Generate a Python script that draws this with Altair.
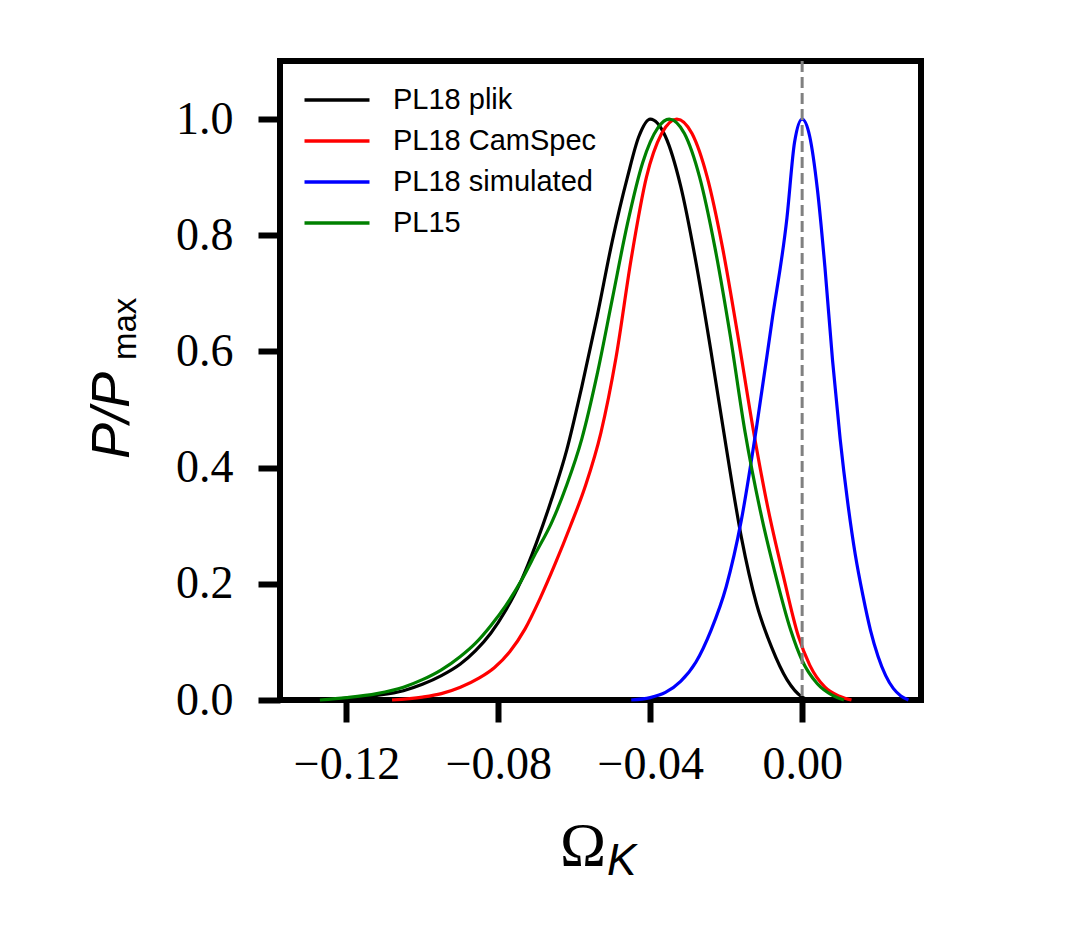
import altair as alt
import pandas as pd

series_names = ["PL18 plik", "PL18 CamSpec", "PL18 simulated", "PL15"]
series_colors = ["#000000", "#ff0000", "#0000ff", "#008000"]

plik_x = [-0.127, -0.120, -0.112, -0.105, -0.100, -0.095, -0.090, -0.086, -0.082, -0.078,
          -0.074, -0.070, -0.066, -0.062, -0.058, -0.054, -0.050, -0.046, -0.043, -0.040,
          -0.036, -0.032, -0.028, -0.024, -0.020, -0.016, -0.012, -0.008, -0.004, 0.000, 0.002]
plik_y = [0.000, 0.003, 0.008, 0.016, 0.027, 0.042, 0.062, 0.085, 0.115, 0.155,
          0.205, 0.270, 0.345, 0.430, 0.540, 0.660, 0.790, 0.900, 0.970, 1.000,
          0.970, 0.885, 0.755, 0.600, 0.435, 0.280, 0.165, 0.090, 0.035, 0.005, 0.000]

camspec_x = [-0.108, -0.100, -0.095, -0.090, -0.085, -0.081, -0.077, -0.073, -0.069, -0.065,
             -0.061, -0.057, -0.053, -0.049, -0.045, -0.041, -0.037, -0.033, -0.029, -0.025,
             -0.021, -0.017, -0.013, -0.009, -0.005, -0.001, 0.002, 0.006, 0.010, 0.013]
camspec_y = [0.000, 0.005, 0.011, 0.022, 0.038, 0.056, 0.083, 0.122, 0.175, 0.235,
             0.300, 0.370, 0.460, 0.590, 0.760, 0.900, 0.975, 1.000, 0.975, 0.900,
             0.780, 0.630, 0.470, 0.330, 0.215, 0.110, 0.060, 0.022, 0.006, 0.000]

sim_x = [-0.045, -0.040, -0.036, -0.032, -0.028, -0.024, -0.020, -0.016, -0.012, -0.008,
         -0.004, -0.002, 0.000, 0.002, 0.004, 0.006, 0.008, 0.010, 0.012, 0.014,
         0.016, 0.018, 0.020, 0.022, 0.024, 0.026, 0.028]
sim_y = [0.000, 0.004, 0.013, 0.032, 0.065, 0.120, 0.195, 0.310, 0.470, 0.650,
         0.830, 0.960, 1.000, 0.970, 0.880, 0.745, 0.585, 0.450, 0.340, 0.250,
         0.180, 0.120, 0.075, 0.042, 0.020, 0.007, 0.000]

pl15_x = [-0.127, -0.120, -0.112, -0.105, -0.100, -0.095, -0.090, -0.086, -0.082, -0.078,
          -0.074, -0.070, -0.066, -0.062, -0.058, -0.054, -0.050, -0.046, -0.042, -0.038,
          -0.035, -0.031, -0.027, -0.023, -0.019, -0.015, -0.011, -0.007, -0.003, 0.000,
          0.004, 0.008, 0.011]
pl15_y = [0.000, 0.004, 0.011, 0.022, 0.035, 0.052, 0.075, 0.098, 0.128, 0.163,
          0.205, 0.255, 0.305, 0.370, 0.450, 0.560, 0.690, 0.820, 0.925, 0.985,
          1.000, 0.975, 0.900, 0.780, 0.630, 0.460, 0.325, 0.215, 0.120, 0.068,
          0.028, 0.008, 0.000]

x_ticks = [-0.12, -0.08, -0.04, 0.00]
y_ticks = [0.0, 0.2, 0.4, 0.6, 0.8, 1.0]
ref_line = [0.0]

rows = []
for name, xs, ys in zip(series_names,
                        [plik_x, camspec_x, sim_x, pl15_x],
                        [plik_y, camspec_y, sim_y, pl15_y]):
    for xv, yv in zip(xs, ys):
        rows.append({"omega": xv, "p": yv, "series": name})
df = pd.DataFrame(rows)

xscale = alt.Scale(domain=[-0.1375, 0.0313], nice=False, zero=False)
yscale = alt.Scale(domain=[0.0, 1.1], nice=False, zero=False)

lines = alt.Chart(df).mark_line(strokeWidth=3.2, interpolate="monotone").encode(
    x=alt.X("omega:Q", scale=xscale,
            axis=alt.Axis(values=x_ticks, format=".2f", title="", labelPadding=20)),
    y=alt.Y("p:Q", scale=yscale,
            axis=alt.Axis(values=y_ticks, format=".1f", title="", labelPadding=25)),
    color=alt.Color("series:N",
                    scale=alt.Scale(domain=series_names, range=series_colors),
                    sort=series_names,
                    legend=alt.Legend(title=None, orient="none", legendX=39, legendY=21,
                                      symbolType="M-2,0H2", symbolSize=1056,
                                      symbolStrokeWidth=3.5, labelFont="Liberation Sans",
                                      labelFontSize=29, labelColor="black", labelLimit=500,
                                      labelOffset=38, rowPadding=8, padding=0)),
)

rule = alt.Chart(pd.DataFrame({"omega": ref_line})).mark_rule(
    color="#808080", strokeWidth=3, strokeDash=[11, 5]
).encode(x=alt.X("omega:Q", scale=xscale))

ytitle1 = alt.Chart(pd.DataFrame({"t": ["P/P"]})).mark_text(
    angle=270, align="left", baseline="alphabetic", font="Liberation Sans",
    fontSize=54, fontStyle="italic", color="black"
).encode(x=alt.value(-151), y=alt.value(398), text="t:N")

ytitle2 = alt.Chart(pd.DataFrame({"t": ["max"]})).mark_text(
    angle=270, align="left", baseline="alphabetic", font="Liberation Sans",
    fontSize=33, color="black"
).encode(x=alt.value(-144), y=alt.value(299), text="t:N")

xtitle1 = alt.Chart(pd.DataFrame({"t": ["Ω"]})).mark_text(
    align="center", baseline="alphabetic", font="Liberation Serif",
    fontSize=62, color="black"
).encode(x=alt.value(303), y=alt.value(804), text="t:N")

xtitle2 = alt.Chart(pd.DataFrame({"t": ["K"]})).mark_text(
    align="left", baseline="alphabetic", font="Liberation Sans",
    fontSize=44, fontStyle="italic", color="black"
).encode(x=alt.value(327), y=alt.value(814), text="t:N")

chart = alt.layer(lines, rule, ytitle1, ytitle2, xtitle1, xtitle2).properties(
    width=641, height=639,
    autosize=alt.AutoSizeParams(type="none"),
    padding={"left": 272, "top": 53, "right": 140, "bottom": 200},
    background="white",
).configure_view(
    stroke="black", strokeWidth=6
).configure_axis(
    domain=False, grid=False, ticks=True, tickSize=22, tickWidth=6, tickColor="black",
    labelFont="Liberation Serif", labelFontSize=46, labelColor="black",
    labelOverlap=False, labelBound=False, labelFlush=False
)

chart.save("out.html", embed_options={"renderer": "svg", "actions": False})
